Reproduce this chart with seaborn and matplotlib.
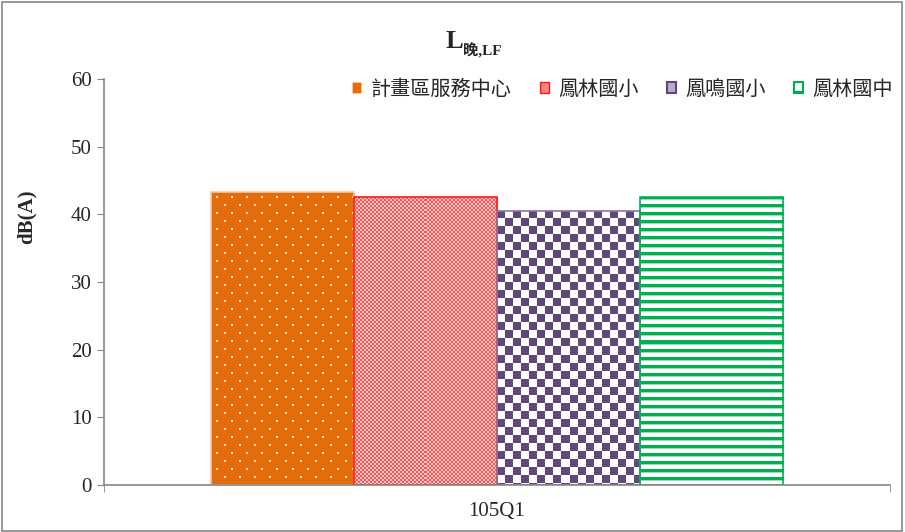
import numpy as np
import pandas as pd
import matplotlib
matplotlib.use("Agg")
import matplotlib.pyplot as plt
from matplotlib.patches import Patch, Rectangle
from matplotlib.colors import to_rgb
import seaborn as sns

# dados do gráfico
periodo = ['105Q1']
estacoes = ['計畫區服務中心', '鳳林國小', '鳳鳴國小', '鳳林國中']
valores = [43.3, 42.5, 40.5, 42.6]

df = pd.DataFrame({'periodo': periodo * len(estacoes), 'estacao': estacoes, 'dB': valores})

sns.set_style('white')
plt.rcParams['font.family'] = ['Liberation Serif', 'Noto Sans CJK TC']
plt.rcParams['hatch.linewidth'] = 1.0

fig = plt.figure(figsize=(9.05, 5.32), dpi=100)
ax = fig.add_axes([104 / 905, 47 / 532, 786 / 905, 406 / 532])

sns.barplot(data=df, x='periodo', y='dB', hue='estacao', hue_order=estacoes,
            width=0.728, legend=False, ax=ax, saturation=1)

ax.set_ylim(0, 60)
ax.set_xlim(-0.5, 0.5)


# texturas (pontos, xadrez, listras) desenhadas como imagem recortada pela barra
def textura(nome, h, w):
    ii, jj = np.mgrid[0:h, 0:w]
    img = np.ones((h, w, 3))
    if nome == 'pontos':
        img[:] = to_rgb('#e46c0a')
        linha = (ii % 8 == 4) | (ii % 8 == 5)
        desloc = np.where((ii // 8) % 2 == 0, 0, 7)
        coluna = ((jj + desloc) % 15 == 5) | ((jj + desloc) % 15 == 6)
        img[linha & coluna] = to_rgb('#fde3cf')
    elif nome == 'fino':
        img[:] = to_rgb('#ffcaca')
        img[((ii // 2) + (jj // 2)) % 2 == 0] = to_rgb('#ff5252')
    elif nome == 'xadrez':
        img[((ii // 8) + (jj // 8)) % 2 == 0] = to_rgb('#5f497a')
    elif nome == 'listras':
        img[ii % 8 < 3] = to_rgb('#00b050')
        img[ii % 8 == 3] = to_rgb('#9ddbb5')
    return img


estilos = [('pontos', '#f6c9a6'), ('fino', '#ff1a1a'), ('xadrez', '#8877a0'), ('listras', '#00b050')]
for barra, (nome, borda) in zip(ax.patches[:4], estilos):
    x0, y0 = barra.get_x(), barra.get_y()
    w, h = barra.get_width(), barra.get_height()
    p = ax.transData.transform([(x0, y0), (x0 + w, y0 + h)])
    wpx = max(1, int(round(p[1, 0] - p[0, 0])))
    hpx = max(1, int(round(p[1, 1] - p[0, 1])))
    im = ax.imshow(textura(nome, hpx, wpx), extent=(x0, x0 + w, y0, y0 + h),
                   aspect='auto', interpolation='none', zorder=0.9)
    im.set_clip_path(barra)
    barra.set_facecolor('none')
    barra.set_edgecolor(borda)
    barra.set_linewidth(1.2)

ax.set_ylim(0, 60)
ax.set_xlim(-0.5, 0.5)

# eixos
sns.despine(ax=ax)
for s in ['left', 'bottom']:
    ax.spines[s].set_color('#868686')
    ax.spines[s].set_linewidth(1.2)
ax.set_yticks(range(0, 61, 10))
ax.tick_params(axis='y', length=5, color='#868686', labelsize=15, pad=4, left=True)
ax.set_xticks([0])
ax.set_xticklabels(periodo, fontsize=15)
ax.set_xticks([-0.5, 0.5], minor=True)
ax.tick_params(axis='x', which='major', length=0, pad=12)
ax.tick_params(axis='x', which='minor', length=5, color='#868686', bottom=True)
ax.set_xlabel('')
ax.set_ylabel('dB(A)', fontsize=15, fontweight='bold')
ax.yaxis.set_label_coords((37 - 104) / 786, (485 - 217) / 406)

# legenda
handles = [
    Patch(facecolor='#e46c0a', edgecolor='#f6c9a6', linewidth=0.5),
    Patch(facecolor='#ff8080', edgecolor='#ff1a1a', linewidth=1.0),
    Patch(facecolor='#b9abcc', edgecolor='#5f497a', linewidth=1.5),
    Patch(facecolor='white', edgecolor='#00b050', hatch='-', linewidth=1.5),
]
fig.legend(handles, estacoes, loc='center right', bbox_to_anchor=(893 / 905, 1 - 89 / 532),
           ncol=4, frameon=False, handlelength=0.45, handleheight=0.45, handletextpad=0.45,
           columnspacing=1.42, borderaxespad=0, borderpad=0,
           prop={'family': ['Noto Sans CJK TC'], 'size': 14.5})

# título L晚,LF
fig.text(445 / 905, 1 - 48 / 532, 'L', fontsize=19, fontweight='bold', va='baseline', ha='left')
fig.text(463 / 905, 1 - 56 / 532, '晚,LF', fontsize=11, fontweight='bold', va='baseline', ha='left',
         family=['Liberation Serif', 'Noto Sans CJK TC'])

# borda da figura
fig.patches.append(Rectangle((0.002, 0.002), 0.995, 0.995, transform=fig.transFigure,
                             fill=False, edgecolor='#868686', linewidth=1.2))

plt.savefig('out.png', dpi=100)
